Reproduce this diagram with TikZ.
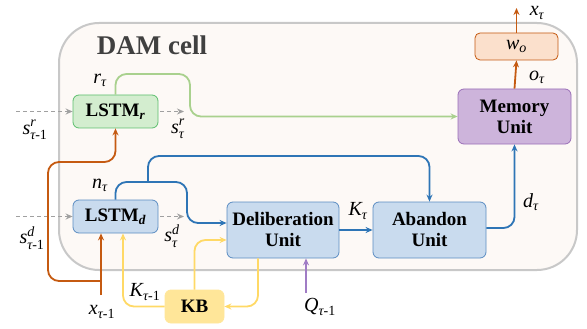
\documentclass[tikz,border=0pt]{standalone}
\usepackage{amsmath}
\usepackage{fontspec}
\setmainfont{Liberation Serif}
\usetikzlibrary{arrows.meta,positioning}

\definecolor{cellfill}{HTML}{FDF9F6}
\definecolor{cellline}{HTML}{C8C8C8}
\definecolor{bluefill}{HTML}{C9DBEE}
\definecolor{blueline}{HTML}{2E75B6}
\definecolor{bluebox}{HTML}{5B8DC2}
\definecolor{greenfill}{HTML}{D3EDCF}
\definecolor{greenbox}{HTML}{5CBF6E}
\definecolor{greenline}{HTML}{A9D18E}
\definecolor{purplefill}{HTML}{CDB4DB}
\definecolor{purplebox}{HTML}{9A6FB8}
\definecolor{purpleline}{HTML}{A07CC5}
\definecolor{orangefill}{HTML}{FBE0CC}
\definecolor{orangeline}{HTML}{C55A11}
\definecolor{yellowfill}{HTML}{FFE699}
\definecolor{yellowline}{HTML}{FFD966}
\definecolor{dashgrey}{HTML}{A0A0A0}

% italic letters in the text font
\newcommand{\ti}[1]{\text{\itshape #1}}
\newcommand{\tm}{\text{-1}}

\begin{document}
\begin{tikzpicture}[x=1pt,y=-1pt,
    unit/.style={draw, rounded corners=6pt, line width=0.8pt, inner sep=0pt,
      align=center, font=\fontsize{19}{21}\selectfont\bfseries},
    lbl/.style={font=\fontsize{20}{22}\selectfont, inner sep=0pt},
    conn/.style={line width=1.8pt, rounded corners=11pt, -{Stealth[length=7pt,width=6pt]}},
    dline/.style={dashgrey, line width=1.8pt, dash pattern=on 4pt off 3pt, -{Stealth[length=7pt,width=6pt]}}]
    \useasboundingbox (0,0) rectangle (587,329);
    % the cell
    \draw[fill=cellfill, draw=cellline, line width=2pt, rounded corners=40pt] (59,23) rectangle (577,270);
    \node[lbl, font=\fontsize{27}{30}\selectfont\bfseries, text=black!75] (title) at (152,45) {DAM cell};
    % boxes
    \node[unit, fill=greenfill, draw=greenbox, minimum width=85pt, minimum height=33pt] (lstmr) at (115.5,111.5) {LSTM$_{\textbf{\textit{r}}}$};
    \node[unit, fill=bluefill, draw=bluebox, minimum width=85pt, minimum height=33pt] (lstmd) at (115.5,216.5) {LSTM$_{\textbf{\textit{d}}}$};
    \node[unit, fill=bluefill, draw=bluebox, minimum width=112pt, minimum height=56pt] (delib) at (283,230) {Deliberation\\Unit};
    \node[unit, fill=bluefill, draw=bluebox, minimum width=113pt, minimum height=56pt] (aband) at (429.5,230) {Abandon\\Unit};
    \node[unit, fill=purplefill, draw=purplebox, minimum width=113pt, minimum height=55pt] (memory) at (514.5,116.5) {Memory\\Unit};
    \node[unit, fill=orangefill, draw=orangeline, rounded corners=5pt, minimum width=83pt, minimum height=27pt, font=\fontsize{20}{22}\selectfont] (wo) at (516.5,46.5) {$\ti{w}_{\ti{o}}$};
    \node[unit, fill=yellowfill, draw=yellowfill, minimum width=59pt, minimum height=33pt] (kb) at (194.5,306.5) {KB};
    % free ends
    \coordinate (sr0) at (16,111.5);
    \coordinate (sr1) at (184,111.5);
    \coordinate (sd0) at (16,216.5);
    \coordinate (sd1) at (184,216.5);
    \coordinate (xin) at (101,295);
    \coordinate (xsplit) at (101,281);
    \coordinate (xout) at (516.5,8);
    \coordinate (qin) at (306,293);
    \coordinate (nsplit) at (148,182);
    % states
    \draw[dline] (sr0) -- (lstmr.west);
    \draw[dline, shorten <=2pt] (lstmr.east) -- (sr1);
    \draw[dline] (sd0) -- (lstmd.west);
    \draw[dline, shorten <=2pt] (lstmd.east) -- (sd1);
    % green
    \draw[conn, greenline] (lstmr.north) |- (190,74) |- (memory.west);
    % blue
    \draw[conn, blueline] (lstmd.north) |- (187,182) |- ([yshift=7pt]delib.west);
    \draw[conn, blueline] (nsplit) -- (148,156) -| (aband.north);
    \draw[conn, blueline] (delib) -- (aband);
    \draw[conn, blueline] ([yshift=2pt]aband.east) -| (memory.south);
    % orange
    \draw[conn, orangeline] (xin) -- (xin |- lstmd.south);
    \draw[conn, orangeline] (xsplit) -| (48,162) -| (lstmr.south);
    \draw[conn, orangeline] (memory.north) -- (wo.south);
    \draw[conn, orangeline] (wo.north) -- (xout);
    % purple
    \draw[conn, purpleline] (qin) -- (qin |- delib.south);
    % yellow
    \draw[conn, yellowline] (kb.north) |- ([yshift=-10pt]delib.west);
    \draw[conn, yellowline] ([xshift=-25pt]delib.south) |- (kb.east);
    \draw[conn, yellowline] (kb.west) -| ([xshift=7.5pt]lstmd.south);
    % labels
    \node[lbl] (rt) at (100,80) {$\ti{r}_{\ti{τ}}$};
    \node[lbl] (srm) at (35,130) {$\ti{s}^{\ti{r}}_{\ti{τ}\tm}$};
    \node[lbl] (srt) at (178,129) {$\ti{s}^{\ti{r}}_{\ti{τ}}$};
    \node[lbl] (nt) at (100,185) {$\ti{n}_{\ti{τ}}$};
    \node[lbl] (sdm) at (32,238) {$\ti{s}^{\ti{d}}_{\ti{τ}\tm}$};
    \node[lbl] (sdt) at (172,236) {$\ti{s}^{\ti{d}}_{\ti{τ}}$};
    \node[lbl] (kt) at (358,211) {$\ti{K}_{\ti{τ}}$};
    \node[lbl] (dt) at (531,202) {$\ti{d}_{\ti{τ}}$};
    \node[lbl] (ot) at (537,77) {$\ti{o}_{\ti{τ}}$};
    \node[lbl] (xt) at (537,13) {$\ti{x}_{\ti{τ}}$};
    \node[lbl] (qm) at (320,307) {$\ti{Q}_{\ti{τ}\tm}$};
    \node[lbl] (xm) at (102,312) {$\ti{x}_{\ti{τ}\tm}$};
    \node[lbl] (km) at (145,292) {$\ti{K}_{\ti{τ}\tm}$};
\end{tikzpicture}
\end{document}
